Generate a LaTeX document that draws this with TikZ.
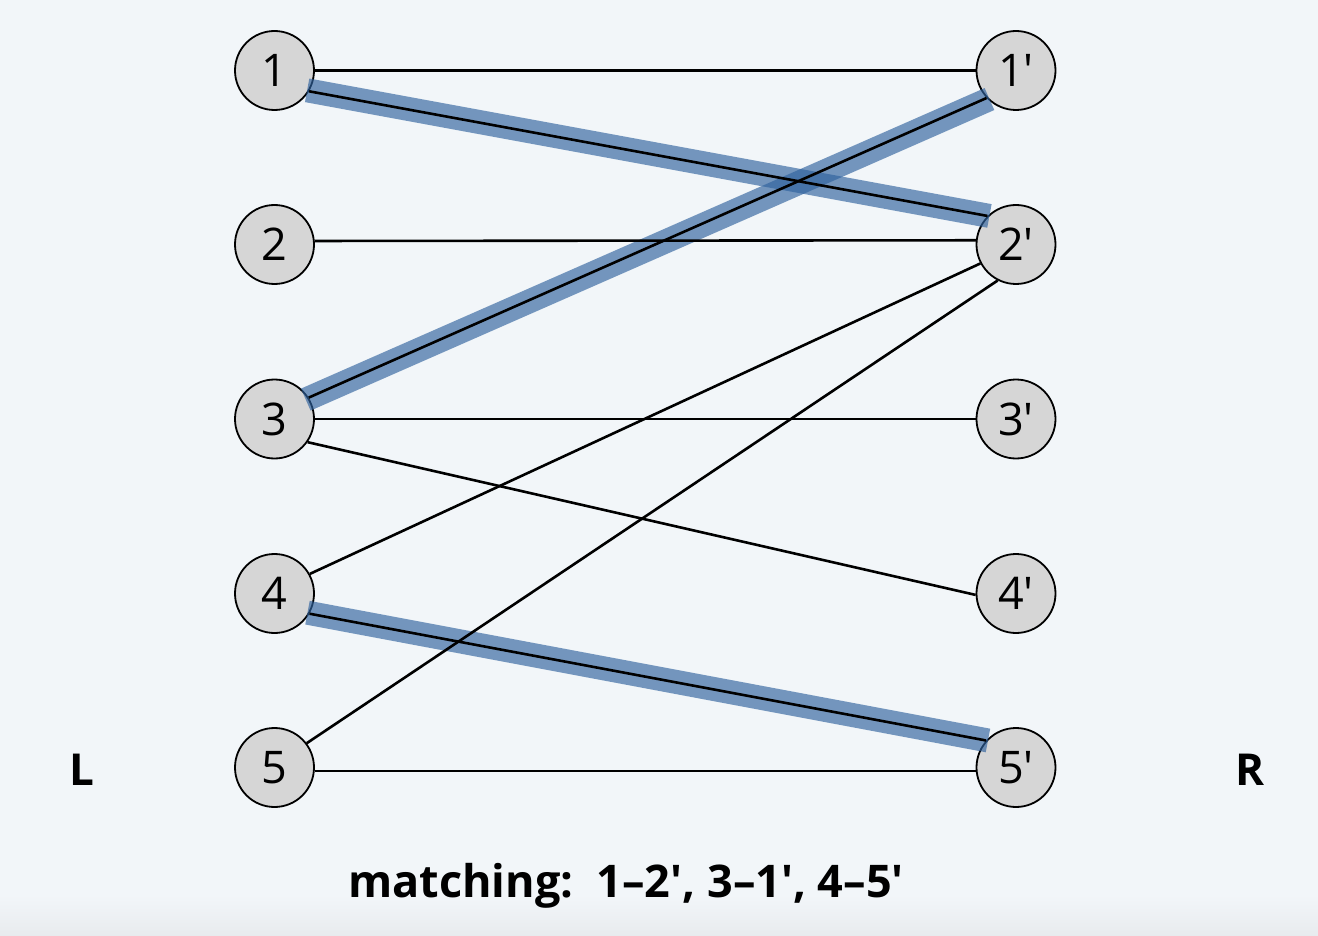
\documentclass[tikz,border=0pt]{standalone}
\usepackage{fontspec}
\setmainfont{Open Sans}
\definecolor{bgcol}{RGB}{242,246,249}
\definecolor{bgbot}{RGB}{232,235,238}
\definecolor{nodefill}{RGB}{214,214,214}
\definecolor{matchcol}{RGB}{47,98,158}
\begin{document}
\begin{tikzpicture}[x=1pt,y=-1pt,
  vtx/.style={circle,draw=black,line width=1.8pt,fill=nodefill,minimum size=79pt,inner sep=0pt,
    font=\fontsize{45}{45}\selectfont},
  edge/.style={draw=black,line width=2.6pt},
  band/.style={draw=matchcol,draw opacity=0.65,line width=24pt},
  side/.style={font=\fontsize{44}{44}\selectfont\bfseries}]
\fill[bgcol] (0,0) rectangle (1318,936);
\shade[top color=bgcol,bottom color=bgbot] (0,895) rectangle (1318,936);
\useasboundingbox (0,0) rectangle (1318,936);
% left nodes
\node[vtx] (l1) at (274.5,70.5) {1};
\node[vtx] (l2) at (274.5,244.5) {2};
\node[vtx] (l3) at (274.5,419) {3};
\node[vtx] (l4) at (274.5,593.5) {4};
\node[vtx] (l5) at (274.5,767.5) {5};
% right nodes
\node[vtx] (r1) at (1016,70.5) {1\textquotesingle};
\node[vtx] (r2) at (1016,244.5) {2\textquotesingle};
\node[vtx] (r3) at (1016,419) {3\textquotesingle};
\node[vtx] (r4) at (1016,593.5) {4\textquotesingle};
\node[vtx] (r5) at (1016,767.5) {5\textquotesingle};
% side labels
\node[side] (L) at (82,770) {L};
\node[side] (R) at (1250,770) {R};
% matched bands
\draw[band] ([shift={(-2pt,1pt)}]l1.-31) -- ([shift={(2pt,0pt)}]r2.135.5);
\draw[band] ([shift={(-3pt,-2pt)}]l3.32) -- ([shift={(3pt,-1pt)}]r1.-137.6);
\draw[band] ([shift={(-2pt,1pt)}]l4.-30) -- ([shift={(2pt,0pt)}]r5.138.4);
% edges
\draw[edge] (l1.0) -- (r1.180);
\draw[edge] (l1.-31) -- (r2.135.5);
\draw[edge] (l2.5.8) -- (r2.174);
\draw[edge] (l3.32) -- (r1.-137.6);
\draw[edge] (l3.0) -- (r3.180);
\draw[edge] (l3.-35) -- (r4.182.6);
\draw[edge] (l4.29.4) -- (r2.208);
\draw[edge] (l4.-30) -- (r5.138.4);
\draw[edge] (l5.37.8) -- (r2.243.7);
\draw[edge] (l5.-5) -- (r5.185);
% caption
\node[font=\fontsize{45}{45}\selectfont\bfseries] (cap) at (626,886)
  {matching:\ \ 1\textendash2\textquotesingle, 3\textendash1\textquotesingle, 4\textendash5\textquotesingle};
\end{tikzpicture}
\end{document}
